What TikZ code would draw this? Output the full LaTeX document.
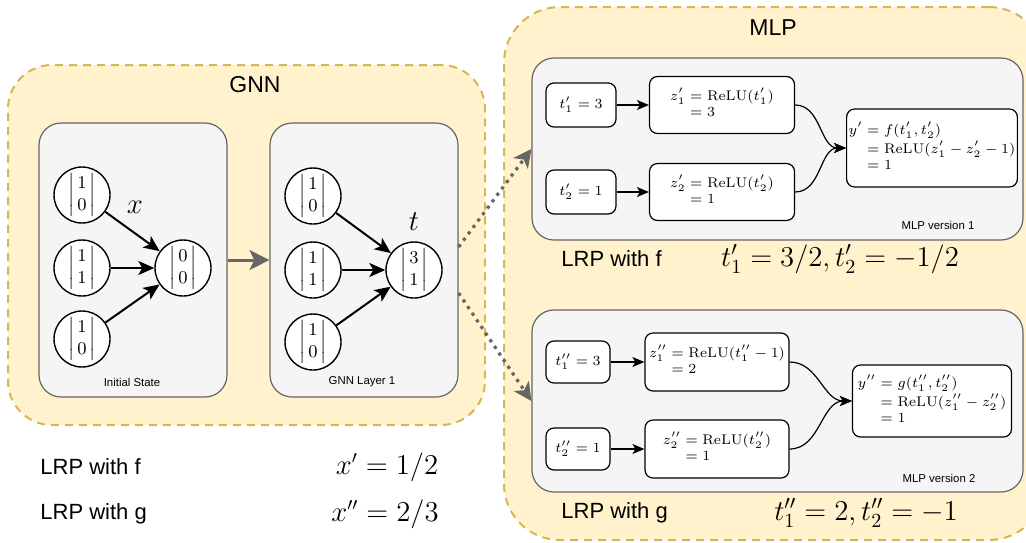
\documentclass[tikz,border=0pt]{standalone}
\usepackage{amsmath}
\usepackage[no-math]{fontspec}
\setmainfont{Liberation Sans}
\usetikzlibrary{arrows.meta}
\definecolor{groupfill}{HTML}{FFF2CC}
\definecolor{groupline}{HTML}{D6B656}
\definecolor{panelfill}{HTML}{F5F5F5}
\definecolor{panelline}{HTML}{666666}
\newcommand{\statevec}[2]{$\left|\,\begin{matrix}#1\\#2\end{matrix}\,\right|$}

\begin{document}
\begin{tikzpicture}[x=0.5pt, y=-0.5pt,
  group/.style={draw=groupline, fill=groupfill, line width=1pt, dash pattern=on 4pt off 3pt, rounded corners=22pt, inner sep=0pt},
  panel/.style={draw=panelline, fill=panelfill, line width=0.6pt, rounded corners=11pt, inner sep=0pt},
  vertex/.style={circle, draw, fill=white, line width=0.7pt, minimum size=28pt, inner sep=0pt, font=\fontsize{9}{11}\selectfont},
  unit/.style={draw, fill=white, rounded corners=4pt, line width=0.6pt, inner sep=1pt, font={\fontsize{7}{8}\selectfont\jot=0pt}},
  link/.style={-{Stealth[length=8pt,width=7pt,inset=2pt]}, line width=1pt},
  wire/.style={-{Stealth[length=6pt,width=5pt,inset=1.5pt]}, line width=0.6pt},
  pass/.style={-{Stealth[length=10pt,width=10pt,inset=2.5pt]}, panelline, line width=1.5pt},
  relay/.style={-{Stealth[length=9pt,width=9pt,inset=2.5pt]}, panelline, line width=1.6pt, dash pattern=on 1.6pt off 2.4pt},
  caption/.style={font=\fontsize{5.7}{7}\selectfont},
  heading/.style={font=\fontsize{11.5}{13}\selectfont},
  note/.style={font=\fontsize{11}{13}\selectfont, anchor=west, inner sep=0pt},
  result/.style={font=\fontsize{14}{16}\selectfont}]
\useasboundingbox (0,0) rectangle (1026,542);
\clip (0,0) rectangle (1026,542);

\node[group, minimum width=238.5pt, minimum height=180pt] (gnn) at (246.5,245) {};
\node[group, rounded corners=28pt, minimum width=270.5pt, minimum height=266.5pt] (mlp) at (774.5,273.5) {};
\node[heading] (gnntitle) at (255,85) {GNN};
\node[heading] (mlptitle) at (773,28) {MLP};

\node[panel, minimum width=94pt, minimum height=137pt] (init) at (133,260) {};
\node[panel, minimum width=94pt, minimum height=137pt] (layer) at (364,260) {};
\node[caption] (initcap) at (132,382) {Initial State};
\node[caption] (layercap) at (362,382) {GNN Layer 1};

\node[vertex] (a1) at (82,195) {\statevec{1}{0}};
\node[vertex] (a2) at (82,268) {\statevec{1}{1}};
\node[vertex] (a3) at (82,339) {\statevec{1}{0}};
\node[vertex] (ax) at (183,268) {\statevec{0}{0}};
\node[font=\fontsize{15}{17}\selectfont] (xlab) at (135,207) {$x$};
\draw[link] (a1) -- (ax);
\draw[link] (a2) -- (ax);
\draw[link] (a3) -- (ax);

\node[vertex] (b1) at (313,196) {\statevec{1}{0}};
\node[vertex] (b2) at (313,270) {\statevec{1}{1}};
\node[vertex] (b3) at (313,342) {\statevec{1}{0}};
\node[vertex] (bt) at (414,270) {\statevec{3}{1}};
\node[font=\fontsize{15}{17}\selectfont] (tlab) at (414,222) {$t$};
\draw[link] (b1) -- (bt);
\draw[link] (b2) -- (bt);
\draw[link] (b3) -- (bt);

\draw[pass] (init) -- (layer);

\node[panel, minimum width=245.5pt, minimum height=91pt] (mlpa) at (777.5,149) {};
\node[panel, minimum width=245.5pt, minimum height=91pt] (mlpb) at (777.5,401) {};
\node[caption] (mlpacap) at (938,225) {MLP version 1};
\node[caption] (mlpbcap) at (939,478) {MLP version 2};

\draw[relay] ([yshift=6.5pt]layer.east) -- (mlpa.west);
\draw[relay] ([yshift=-16.5pt]layer.east) -- (mlpb.west);

\node[unit, minimum width=35pt, minimum height=22pt] (ta) at (581,105) {$t'_1 = 3$};
\node[unit, minimum width=35pt, minimum height=22pt] (tb) at (581,192) {$t'_2 = 1$};
\node[unit, minimum width=72.5pt, minimum height=28.5pt] (za) at (722,105) {$\begin{aligned} z'_1 &= \mathrm{ReLU}(t'_1)\\ &= 3\end{aligned}$};
\node[unit, minimum width=72.5pt, minimum height=28.5pt] (zb) at (722,192) {$\begin{aligned} z'_2 &= \mathrm{ReLU}(t'_2)\\ &= 1\end{aligned}$};
\node[unit, minimum width=79.5pt, minimum height=39pt] (ya) at (932,148) {$\begin{aligned} y' &= f(t'_1,t'_2)\\ &= \mathrm{ReLU}(z'_1-z'_2-1)\\ &= 1\end{aligned}$};
\draw[wire] (ta) -- (za);
\draw[wire] (tb) -- (zb);
\draw[wire] (za.east) to[out=0, in=180] (ya.west);
\draw[wire] (zb.east) to[out=0, in=180] (ya.west);

\node[unit, minimum width=32pt, minimum height=21pt] (tc) at (578,362) {$t''_1 = 3$};
\node[unit, minimum width=32pt, minimum height=21pt] (td) at (578,449) {$t''_2 = 1$};
\node[unit, minimum width=72pt, minimum height=29pt] (zc) at (717,362) {$\begin{aligned} z''_1 &= \mathrm{ReLU}(t''_1-1)\\ &= 2\end{aligned}$};
\node[unit, minimum width=72pt, minimum height=29pt] (zd) at (717,449) {$\begin{aligned} z''_2 &= \mathrm{ReLU}(t''_2)\\ &= 1\end{aligned}$};
\node[unit, minimum width=79.5pt, minimum height=36pt] (yb) at (932,401) {$\begin{aligned} y'' &= g(t''_1,t''_2)\\ &= \mathrm{ReLU}(z''_1-z''_2)\\ &= 1\end{aligned}$};
\draw[wire] (tc) -- (zc);
\draw[wire] (td) -- (zd);
\draw[wire] (zc.east) to[out=0, in=180] (yb.west);
\draw[wire] (zd.east) to[out=0, in=180] (yb.west);

\node[note] (lrpfa) at (561,259) {LRP with f};
\node[result] (tfa) at (840,259) {$t'_1 = 3/2, t'_2 = -1/2$};
\node[note] (lrpgb) at (561,513) {LRP with g};
\node[result] (tgb) at (866,513) {$t''_1 = 2, t''_2 = -1$};

\node[note] (lrpf) at (40,467) {LRP with f};
\node[result, font=\fontsize{13.5}{16}\selectfont] (xf) at (387,467) {$x' = 1/2$};
\node[note] (lrpg) at (40,514) {LRP with g};
\node[result, font=\fontsize{13.5}{16}\selectfont] (xg) at (385,514) {$x'' = 2/3$};
\end{tikzpicture}
\end{document}
